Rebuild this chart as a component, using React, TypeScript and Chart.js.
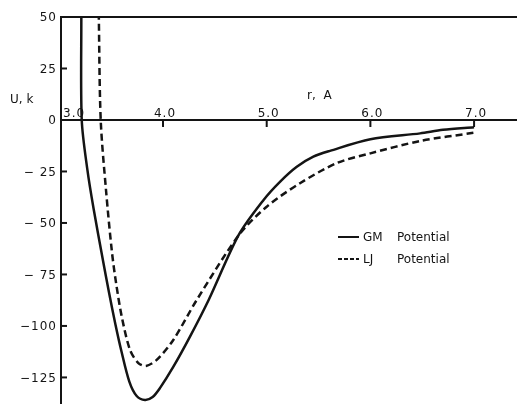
import React, { useEffect, useRef } from "react";
import { Chart, registerables } from "chart.js";

Chart.register(...registerables);

// GM potential (solid): r in Å, U in K
const gmR = [3.212, 3.216, 3.27, 3.33, 3.42, 3.48, 3.54, 3.6, 3.675, 3.746, 3.826, 3.9, 3.97, 4.1, 4.26, 4.44, 4.73, 4.97, 5.13, 5.29, 5.45, 5.61, 6.0, 6.48, 6.7, 7.0];
const gmU = [52, 0, -24, -43, -68, -84, -99, -112.5, -127, -134, -135.9, -134.5, -130.2, -119.8, -105.2, -87.4, -55.8, -38.8, -29.9, -22.7, -17.8, -15.0, -9.4, -6.5, -4.8, -3.5];

// LJ potential (dashed)
const ljR = [3.38, 3.399, 3.45, 3.507, 3.547, 3.602, 3.682, 3.762, 3.836, 3.939, 4.099, 4.325, 4.733, 5.0, 5.321, 5.678, 6.0, 6.48, 7.0];
const ljU = [52, 0, -34, -64, -79.1, -95.5, -111.7, -118.0, -119.4, -116.5, -106.8, -87.4, -55.8, -42.1, -30.7, -20.9, -16.2, -10.2, -6.2];

const xTicks = [3.0, 4.0, 5.0, 6.0, 7.0];
const xTickLabels = ["3.0", "4.0", "5.0", "6.0", "7.0"];
const yTicks = [50, 25, 0, -25, -50, -75, -100, -125];
const yTickLabels = ["50", "25", "0", "\u2212 25", "\u2212 50", "\u2212 75", "\u2212100", "\u2212125"];
const seriesNames = ["GM  Potential", "LJ  Potential"];
const xAxisTitle = "r,  A";
const yAxisTitle = "U, k";

const INK = "#141414";
const FONT = '12px "DejaVu Sans", sans-serif';

const axesPlugin = {
  id: "axesPlugin",
  afterDraw(chart: any) {
    const ctx = chart.ctx as CanvasRenderingContext2D;
    const { left, right, bottom } = chart.chartArea;
    const xs = chart.scales.x;
    const ys = chart.scales.y;
    ctx.save();
    ctx.strokeStyle = INK;
    ctx.fillStyle = INK;
    ctx.lineWidth = 2;
    ctx.setLineDash([]);
    const line = (x1: number, y1: number, x2: number, y2: number) => {
      ctx.beginPath();
      ctx.moveTo(x1, y1);
      ctx.lineTo(x2, y2);
      ctx.stroke();
    };
    const yTop = ys.getPixelForValue(yTicks[0]);
    const y0 = ys.getPixelForValue(0);
    // frame top, left axis, x axis at U = 0
    line(left - 1, yTop, right, yTop);
    line(left, yTop, left, bottom);
    line(left, y0, right, y0);

    ctx.font = FONT;
    (ctx as any).letterSpacing = "1px";
    // x ticks & labels
    ctx.textAlign = "center";
    ctx.textBaseline = "alphabetic";
    xTicks.forEach((v, i) => {
      const p = xs.getPixelForValue(v);
      if (p > left + 4) line(p, y0, p, y0 + 7);
      const w = ctx.measureText(xTickLabels[i]).width;
      const cx = Math.max(p + 2, left + 2 + w / 2);
      ctx.fillText(xTickLabels[i], cx, y0 - 3);
    });
    // y ticks & labels
    ctx.textAlign = "right";
    ctx.textBaseline = "middle";
    yTicks.forEach((v, i) => {
      const p = ys.getPixelForValue(v);
      if (v !== 0 && v !== yTicks[0]) line(left, p, left + 6, p);
      ctx.fillText(yTickLabels[i], left - 4, p + 1);
    });
    (ctx as any).letterSpacing = "0px";

    // axis titles
    ctx.textAlign = "left";
    ctx.textBaseline = "middle";
    ctx.fillText(yAxisTitle, 10, 100);
    ctx.fillText(xAxisTitle, 307, 96);

    // legend
    const lx = 338;
    const rows = [237, 259];
    rows.forEach((yy, i) => {
      ctx.lineWidth = 2;
      ctx.setLineDash(i === 0 ? [] : [4, 2]);
      line(lx, yy, lx + 21, yy);
      ctx.setLineDash([]);
      const parts = seriesNames[i].split("  ");
      ctx.fillText(parts[0], lx + 25, yy + 1);
      ctx.fillText(parts[1], lx + 59, yy + 1);
    });
    ctx.restore();
  },
};

export default function App() {
  const ref = useRef<HTMLCanvasElement | null>(null);
  useEffect(() => {
    if (!ref.current) return;
    const chart = new Chart(ref.current, {
      type: "line",
      data: {
        datasets: [
          {
            label: seriesNames[0],
            data: gmR.map((r, i) => ({ x: r, y: gmU[i] })),
            borderColor: INK,
            borderWidth: 2.5,
            pointRadius: 0,
            fill: false,
            tension: 0.3,
          },
          {
            label: seriesNames[1],
            data: ljR.map((r, i) => ({ x: r, y: ljU[i] })),
            borderColor: INK,
            borderWidth: 2.5,
            borderDash: [7, 4],
            pointRadius: 0,
            fill: false,
            tension: 0.3,
          },
        ],
      },
      options: {
        animation: false,
        responsive: false,
        devicePixelRatio: 1,
        layout: { padding: { left: 61, top: 17, right: 0, bottom: 0 } },
        plugins: { legend: { display: false }, tooltip: { enabled: false } },
        scales: {
          x: { type: "linear", display: false, min: 3.016, max: 7.414 },
          y: { type: "linear", display: false, min: -137.9, max: 50 },
        },
      },
      plugins: [axesPlugin],
    });
    return () => chart.destroy();
  }, []);
  return (
    <div style={{ position: "fixed", left: 0, top: 0, width: 517, height: 404, background: "#fff" }}>
      <canvas ref={ref} width={517} height={404} style={{ display: "block" }} />
    </div>
  );
}
